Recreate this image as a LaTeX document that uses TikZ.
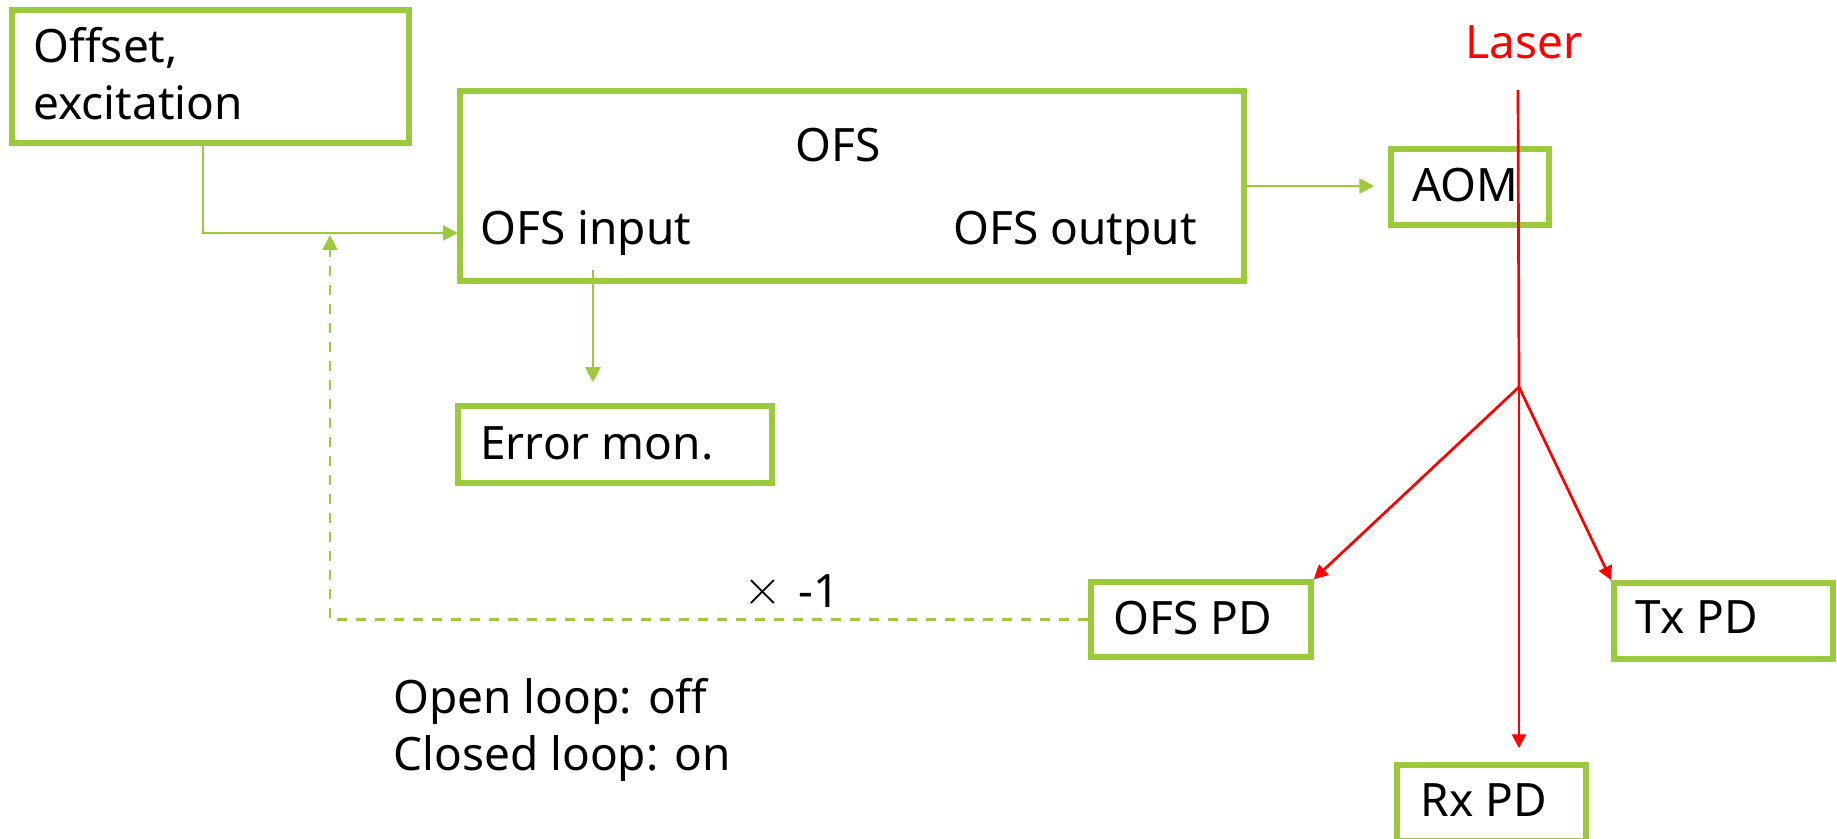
\documentclass[tikz,border=0pt]{standalone}
\usepackage{fontspec}
\setmainfont{Noto Sans}
\usetikzlibrary{arrows.meta}
\definecolor{leaf}{HTML}{9BCB3C}
\definecolor{beam}{HTML}{FF0000}
\begin{document}
\begin{tikzpicture}[x=0.5pt,y=-0.5pt,
  box/.style={draw=leaf, line width=2.75pt, rectangle, inner sep=0pt},
  txt/.style={font=\fontsize{23}{28}\selectfont, inner sep=0pt, anchor=base west},
  wire/.style={draw=leaf, line width=1.3pt, -{Triangle[length=7.5pt,width=7.5pt]}},
  ray/.style={draw=beam, line width=1.35pt, -{Triangle[length=7pt,width=7pt]}}]
\useasboundingbox (0,0) rectangle (1837,839);
\begin{scope}
\clip (0,0) rectangle (1837,839);

% blocks
\node[box, minimum width=198.5pt, minimum height=66.5pt] (offset) at (210.5,76.5) {};
\node[box, minimum width=392pt, minimum height=95pt] (ofs) at (852,186) {};
\node[box, minimum width=79pt, minimum height=38pt] (aom) at (1470,187) {};
\node[box, minimum width=157pt, minimum height=38.5pt] (errmon) at (615,444.5) {};
\node[box, minimum width=110pt, minimum height=37.5pt] (ofspd) at (1201,619.5) {};
\node[box, minimum width=109.5pt, minimum height=38pt] (txpd) at (1723.5,621) {};
\node[box, minimum width=94.5pt, minimum height=38pt] (rxpd) at (1491.5,803) {};

% labels
\node[txt] (offsetA) at (33,63) {Offset,};
\node[txt] (offsetB) at (33,120) {excitation};
\node[txt] (ofstitle) at (795,162) {OFS};
\node[txt] (ofsin) at (480,245) {OFS input};
\node[txt] (ofsout) at (953,245) {OFS output};
\node[txt] (aomlbl) at (1412,202) {AOM};
\node[txt] (errlbl) at (480,459) {Error mon.};
\node[txt] (ofspdlbl) at (1113,634) {OFS PD};
\node[txt] (txpdlbl) at (1635,633) {Tx PD};
\node[txt] (rxpdlbl) at (1420,816) {Rx PD};
\node[txt, text=beam] (laser) at (1465,59) {Laser};
\node[txt] (gain) at (743,607)
  {\makebox[27.5pt][l]{\raisebox{1.5pt}{\fontsize{25}{25}\selectfont$\times$}}-1};
\node[txt] (openlbl) at (393,713) {Open loop: off};
\node[txt] (closedlbl) at (393,770) {Closed loop: on};

% electrical paths
\coordinate (inport) at (458,233);
\coordinate (sum) at (330,235);
\coordinate (tap) at (593,270);
\draw[wire] ([xshift=-3.75pt]offset.south) |- (inport);
\draw[wire, dash pattern=on 5pt off 4.5pt] (ofspd.west) -| (sum);
\draw[wire, shorten >=10.5pt] (tap) -- (tap |- errmon.north);
\draw[wire, shorten >=7pt] (ofs.east) -- (ofs.east -| aom.west);

% optical paths
\coordinate (beamtop) at (1518,90);
\coordinate (split) at (1519,387);
\draw[ray, -] (beamtop) -- (split);
\draw[ray, shorten >=7pt] (split) -- (split |- rxpd.north);
\draw[ray] (split) -- (ofspd.north east);
\draw[ray] (split) -- (txpd.north west);
\end{scope}
\end{tikzpicture}
\end{document}
